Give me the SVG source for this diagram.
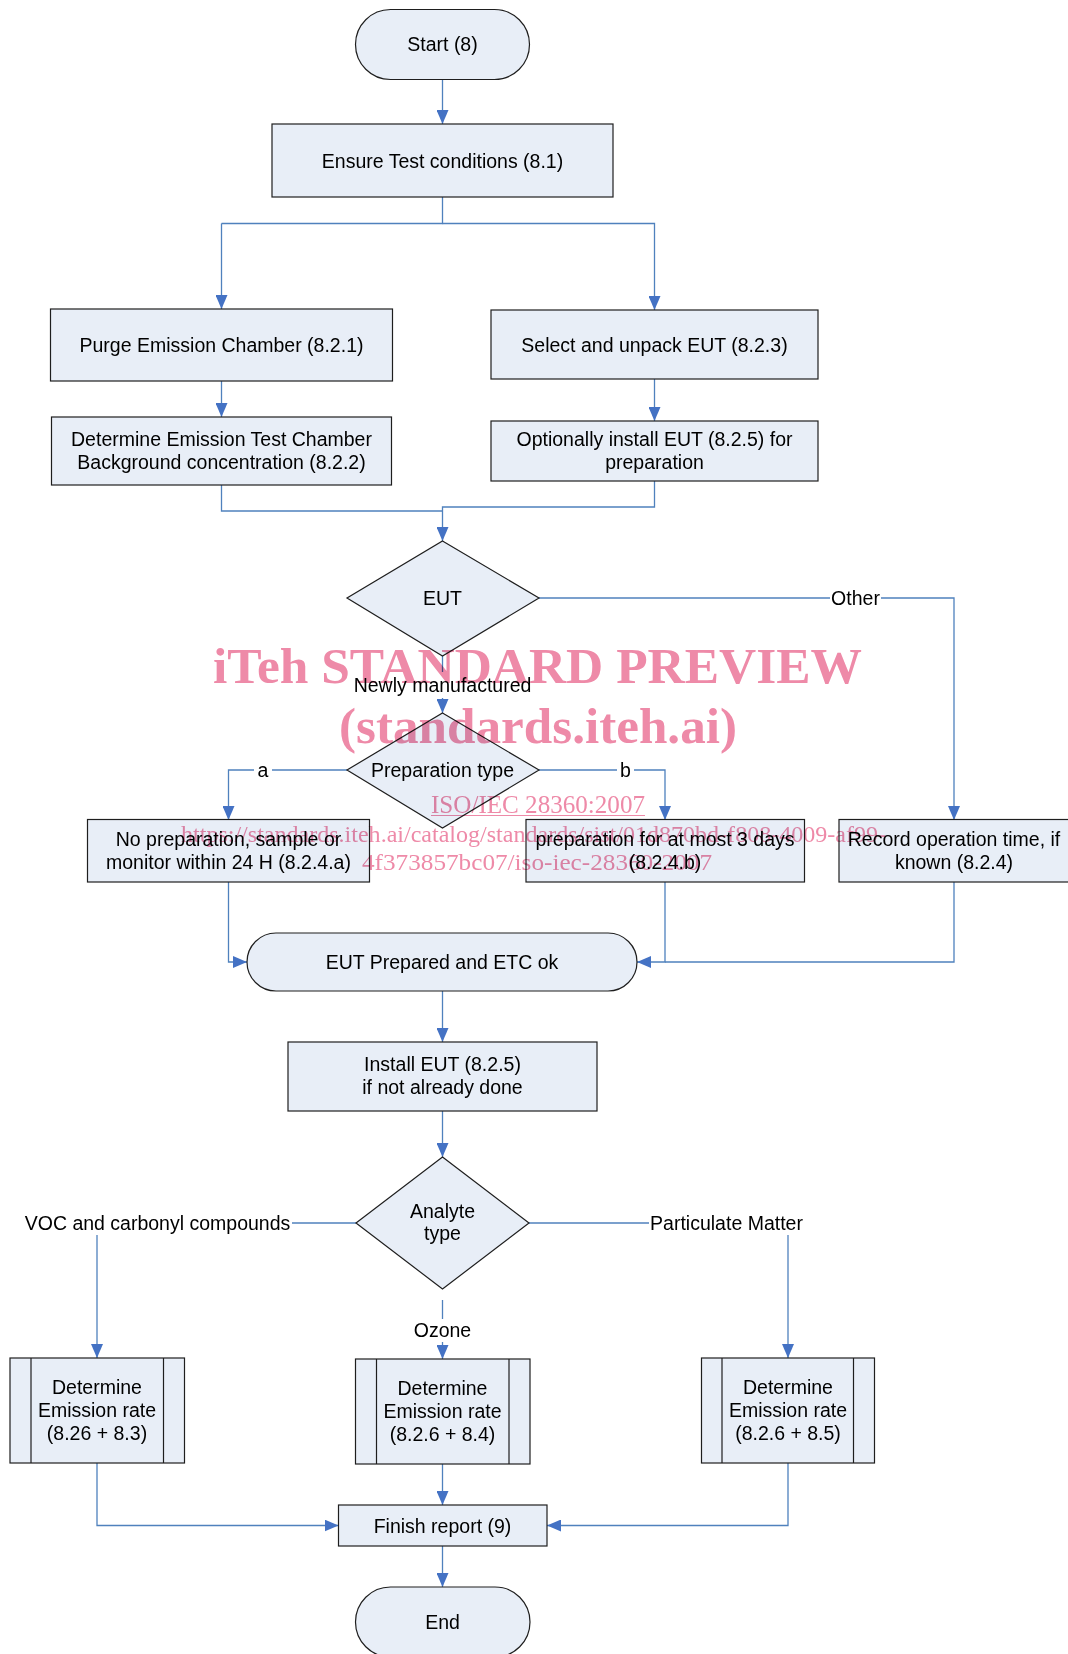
<svg xmlns="http://www.w3.org/2000/svg" width="1068" height="1654" viewBox="0 0 1068 1654">
<style>
.n{fill:#e8eef7;stroke:#1e1e1e;stroke-width:1.2}
.t{font-family:"Liberation Sans",Arial,sans-serif;font-size:19.5px;fill:#000;text-anchor:middle}
.c{fill:none;stroke:#4f81bd;stroke-width:1.3}
.a{marker-end:url(#ah)}
.w{font-family:"Liberation Serif","Times New Roman",serif;fill:#ee8aa8}
</style>
<defs>
<marker id="ah" markerUnits="userSpaceOnUse" markerWidth="14" markerHeight="12" viewBox="0 0 14 12" refX="14" refY="6" orient="auto">
<path d="M0,0 L14,6 L0,12 z" fill="#4472c4"/>
</marker>
</defs>
<rect width="1068" height="1654" fill="#fff"/>

<g id="connectors">
<path class="c a" d="M442.5,79 V124"/>
<path class="c" d="M442.5,197 V223.5 H221.5"/>
<path class="c a" d="M221.5,223.5 V309"/>
<path class="c a" d="M442.5,223.5 H654.5 V310"/>
<path class="c a" d="M221.5,381 V417"/>
<path class="c a" d="M654.5,379 V421"/>
<path class="c" d="M221.5,485 V511 H442.5"/>
<path class="c a" d="M654.5,481 V507 H442.5 V541"/>
<path class="c" d="M539,598 H830"/>
<path class="c a" d="M881,598 H954 V820"/>
<path class="c" d="M442.5,656 V672"/>
<path class="c a" d="M442.5,698 V713"/>
<path class="c" d="M347,770 H272"/>
<path class="c a" d="M254,770 H228.5 V820"/>
<path class="c" d="M539,770 H617"/>
<path class="c a" d="M634,770 H665 V820"/>
<path class="c a" d="M228.5,882 V962 H247"/>
<path class="c a" d="M665,882 V962 H637"/>
<path class="c" d="M954,882 V962 H665"/>
<path class="c a" d="M442.5,991 V1042"/>
<path class="c a" d="M442.5,1111 V1157"/>
<path class="c" d="M356,1223 H292"/>
<path class="c a" d="M97,1235 V1358"/>
<path class="c" d="M529,1223 H649"/>
<path class="c a" d="M788,1235 V1358"/>
<path class="c" d="M442.5,1300 V1319"/>
<path class="c a" d="M442.5,1342 V1359"/>
<path class="c a" d="M97,1463 V1525.5 H338.5"/>
<path class="c a" d="M442.5,1464 V1505"/>
<path class="c a" d="M788,1463 V1525.5 H547"/>
<path class="c a" d="M442.5,1546 V1587"/>
</g>

<g id="labels">
<text class="t" x="855.5" y="605">Other</text>
<text class="t" x="442.5" y="692">Newly manufactured</text>
<text class="t" x="263" y="777">a</text>
<text class="t" x="625.5" y="777">b</text>
<text class="t" x="157.5" y="1230">VOC and carbonyl compounds</text>
<text class="t" x="726.5" y="1230">Particulate Matter</text>
<text class="t" x="442.5" y="1337">Ozone</text>
</g>

<g id="start"><rect class="n" x="355.5" y="9.5" width="174" height="70" rx="35" ry="35"/><text class="t" x="442.5" y="51">Start (8)</text></g>
<g id="ensure"><rect class="n" x="272" y="124" width="341" height="73"/><text class="t" x="442.5" y="167.5">Ensure Test conditions (8.1)</text></g>
<g id="purge"><rect class="n" x="50.5" y="309" width="342" height="72"/><text class="t" x="221.5" y="352">Purge Emission Chamber (8.2.1)</text></g>
<g id="select"><rect class="n" x="491" y="310" width="327" height="69"/><text class="t" x="654.5" y="351.5">Select and unpack EUT (8.2.3)</text></g>
<g id="background"><rect class="n" x="51.5" y="417" width="340" height="68"/><text class="t" x="221.5" y="446">Determine Emission Test Chamber</text><text class="t" x="221.5" y="469">Background concentration (8.2.2)</text></g>
<g id="optionally"><rect class="n" x="491" y="421" width="327" height="60"/><text class="t" x="654.5" y="446">Optionally install EUT (8.2.5) for</text><text class="t" x="654.5" y="469">preparation</text></g>
<g id="eut"><polygon class="n" points="442.5,541 539,598 442.5,656 347,598"/><text class="t" x="442.5" y="605">EUT</text></g>
<g id="preptype"><polygon class="n" points="442.5,713 539,770 442.5,828 347,770"/><text class="t" x="442.5" y="777">Preparation type</text></g>
<g id="noprep"><rect class="n" x="87.5" y="819.5" width="282" height="62.5"/><text class="t" x="228.5" y="846">No preparation, sample or</text><text class="t" x="228.5" y="869">monitor within 24 H (8.2.4.a)</text></g>
<g id="prep3"><rect class="n" x="526" y="819.5" width="278.5" height="62.5"/><text class="t" x="665" y="846">preparation for at most 3 days</text><text class="t" x="665" y="869">(8.2.4.b)</text></g>
<g id="record"><rect class="n" x="839" y="819.5" width="230" height="62.5"/><text class="t" x="954" y="846">Record operation time, if</text><text class="t" x="954" y="869">known (8.2.4)</text></g>
<g id="prepared"><rect class="n" x="247" y="933" width="390" height="58" rx="29" ry="29"/><text class="t" x="442" y="969">EUT Prepared and ETC ok</text></g>
<g id="install"><rect class="n" x="288" y="1042" width="309" height="69"/><text class="t" x="442.5" y="1071">Install EUT (8.2.5)</text><text class="t" x="442.5" y="1094">if not already done</text></g>
<g id="analyte"><polygon class="n" points="442.5,1157 529,1223 442.5,1289 356,1223"/><text class="t" x="442.5" y="1218">Analyte</text><text class="t" x="442.5" y="1240">type</text></g>
<g id="det1"><rect class="n" x="10" y="1358" width="174.5" height="105"/><line class="n" x1="31" y1="1358" x2="31" y2="1463"/><line class="n" x1="163.5" y1="1358" x2="163.5" y2="1463"/><text class="t" x="97" y="1394">Determine</text><text class="t" x="97" y="1417">Emission rate</text><text class="t" x="97" y="1440">(8.26 + 8.3)</text></g>
<g id="det2"><rect class="n" x="355.5" y="1359" width="174.5" height="105"/><line class="n" x1="376.5" y1="1359" x2="376.5" y2="1464"/><line class="n" x1="509" y1="1359" x2="509" y2="1464"/><text class="t" x="442.5" y="1395">Determine</text><text class="t" x="442.5" y="1418">Emission rate</text><text class="t" x="442.5" y="1441">(8.2.6 + 8.4)</text></g>
<g id="det3"><rect class="n" x="701.5" y="1358" width="173" height="105"/><line class="n" x1="722" y1="1358" x2="722" y2="1463"/><line class="n" x1="853.5" y1="1358" x2="853.5" y2="1463"/><text class="t" x="788" y="1394">Determine</text><text class="t" x="788" y="1417">Emission rate</text><text class="t" x="788" y="1440">(8.2.6 + 8.5)</text></g>
<g id="finish"><rect class="n" x="338.5" y="1505" width="208.5" height="41"/><text class="t" x="442.5" y="1532.5">Finish report (9)</text></g>
<g id="end"><rect class="n" x="355.5" y="1587" width="174.5" height="70" rx="35" ry="35"/><text class="t" x="442.5" y="1629">End</text></g>

<g id="watermark" style="mix-blend-mode:multiply">
<text class="w" x="213" y="683" font-size="51" font-weight="bold" textLength="649" lengthAdjust="spacingAndGlyphs">iTeh STANDARD PREVIEW</text>
<text class="w" x="339" y="743" font-size="51" font-weight="bold" textLength="398" lengthAdjust="spacingAndGlyphs">(standards.iteh.ai)</text>
<text class="w" x="431" y="813" font-size="25" textLength="214" lengthAdjust="spacingAndGlyphs">ISO/IEC 28360:2007</text>
<line x1="431" y1="815.5" x2="645" y2="815.5" stroke="#ee8aa8" stroke-width="1.2"/>
<text class="w" x="181" y="842" font-size="24" textLength="705" lengthAdjust="spacingAndGlyphs">https://standards.iteh.ai/catalog/standards/sist/01d870bd-f808-4009-af99-</text>
<text class="w" x="362" y="870" font-size="24" textLength="350" lengthAdjust="spacingAndGlyphs">4f373857bc07/iso-iec-28360-2007</text>
</g>
</svg>
